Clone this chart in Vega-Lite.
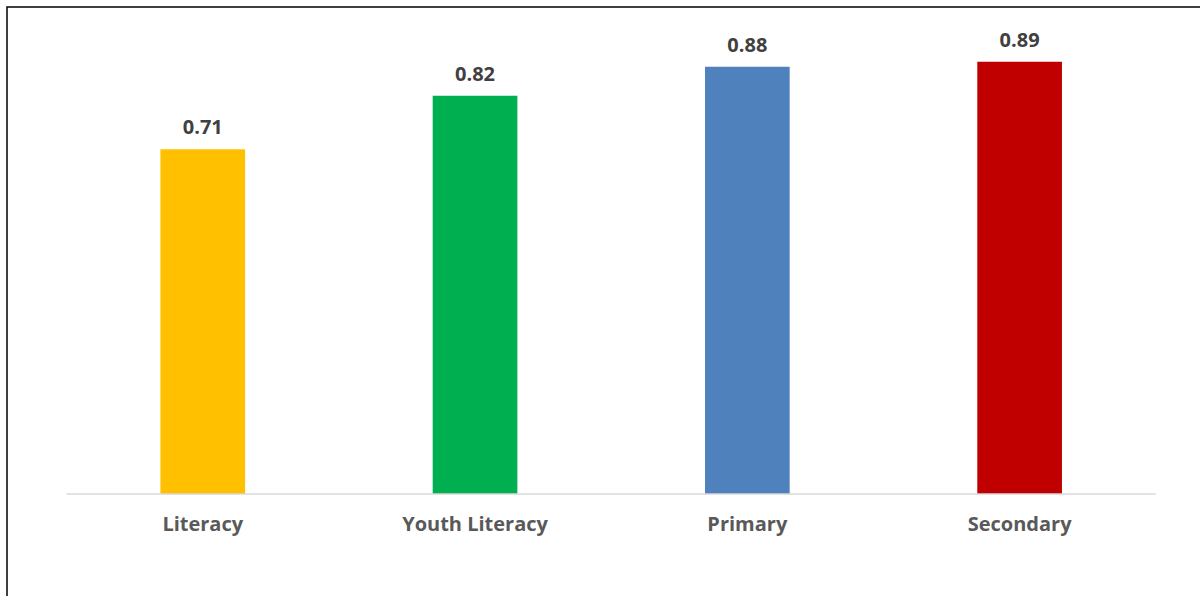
{
  "$schema": "https://vega.github.io/schema/vega-lite/v6.json",
  "width": 1196,
  "height": 592,
  "autosize": {"type": "none"},
  "padding": {"left": 7, "top": 7, "right": -3, "bottom": -3},
  "background": "white",
  "config": {"view": {"stroke": "black", "strokeWidth": 1.5}},
  "data": {"values": [
    {"category": "Literacy", "value": 0.71},
    {"category": "Youth Literacy", "value": 0.82},
    {"category": "Primary", "value": 0.88},
    {"category": "Secondary", "value": 0.89}
  ]},
  "encoding": {
    "x": {
      "field": "category", "type": "nominal", "sort": null,
      "scale": {"paddingInner": 0.689, "paddingOuter": 0.5407, "align": 0.521},
      "axis": {
        "orient": "bottom", "offset": -97, "domain": false, "ticks": false, "title": null,
        "labelAngle": 0, "labelFont": "Open Sans", "labelFontSize": 20, "labelFontWeight": "bold",
        "labelColor": "#595959", "labelPadding": 12
      }
    }
  },
  "layer": [
    {
      "mark": {"type": "bar"},
      "encoding": {
        "y": {"field": "value", "type": "quantitative", "scale": {"domain": [-0.2162, 1.003], "nice": false, "zero": false}, "axis": null},
        "color": {
          "field": "category", "type": "nominal",
          "scale": {"domain": ["Literacy", "Youth Literacy", "Primary", "Secondary"], "range": ["#FFC000", "#00B050", "#4F81BD", "#C00000"]},
          "legend": null
        }
      }
    },
    {
      "mark": {"type": "text", "dy": -11, "baseline": "bottom", "font": "Open Sans", "fontSize": 20, "fontWeight": "bold", "color": "#404040"},
      "encoding": {
        "y": {"field": "value", "type": "quantitative"},
        "text": {"field": "value", "type": "quantitative", "format": ".2f"}
      }
    },
    {
      "data": {"values": [{"from": "Literacy", "to": "Secondary", "base": 0}]},
      "mark": {"type": "rule", "color": "#d9d9d9", "strokeWidth": 1.5},
      "encoding": {
        "x": {"field": "from", "type": "nominal", "bandPosition": -1.108},
        "x2": {"field": "to", "bandPosition": 2.108},
        "y": {"field": "base", "type": "quantitative"}
      }
    }
  ]
}
